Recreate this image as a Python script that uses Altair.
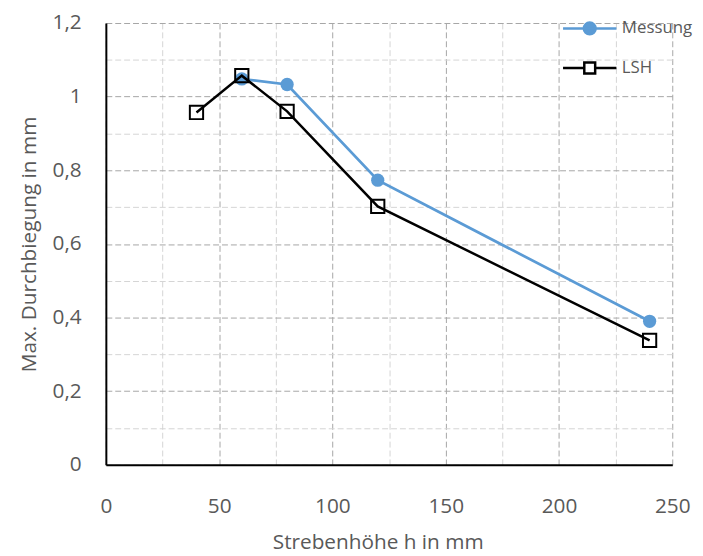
import altair as alt
import pandas as pd

# Data
mess_x = [60, 80, 120, 240]
mess_y = [1.048, 1.033, 0.773, 0.390]
lsh_x = [40, 60, 80, 120, 240]
lsh_y = [0.957, 1.057, 0.960, 0.702, 0.338]

series_names = ["Messung", "LSH"]
series_colors = ["#5B9BD5", "#000000"]

x_ticks = [0, 25, 50, 75, 100, 125, 150, 175, 200, 225, 250]
y_ticks = [0, 0.1, 0.2, 0.3, 0.4, 0.5, 0.6, 0.7, 0.8, 0.9, 1.0, 1.1, 1.2]

df_mess = pd.DataFrame({"h": mess_x, "d": mess_y, "series": "Messung"})
df_lsh = pd.DataFrame({"h": lsh_x, "d": lsh_y, "series": "LSH"})
df_all = pd.concat([df_mess, df_lsh], ignore_index=True)

FONT = "Open Sans"
TXT = "#595959"
FS = 21

x_enc = alt.X(
    "h:Q",
    scale=alt.Scale(domain=[0, 250], nice=False),
    axis=alt.Axis(
        values=x_ticks,
        title="Strebenhöhe h in mm",
        labelExpr="datum.value % 50 == 0 ? format(datum.value, 'd') : ''",
        ticks=False,
        labelPadding=31,
        labelFontSize=FS,
        labelColor=TXT,
        labelFont=FONT,
        titleFont=FONT,
        titleFontSize=FS,
        titleFontWeight="normal",
        titleColor=TXT,
        titleX=275,
        titleY=79,
        titleBaseline="middle",
        domainColor="#000000",
        domainWidth=2,
        grid=True,
        gridColor={"condition": {"test": "datum.value % 50 == 0", "value": "#a6a6a6"}, "value": "#d4d4d4"},
        gridDash=[6, 3],
        gridWidth=1,
        labelFlush=False,
        labelOverlap=False,
    ),
)

y_enc = alt.Y(
    "d:Q",
    scale=alt.Scale(domain=[0, 1.2], nice=False),
    axis=alt.Axis(
        values=y_ticks,
        title="Max. Durchbiegung in mm",
        labelExpr="round(datum.value * 10) % 2 == 0 ? replace(format(datum.value, '~g'), '.', ',') : ''",
        ticks=False,
        labelPadding=25,
        labelFontSize=FS,
        labelColor=TXT,
        labelFont=FONT,
        titleFont=FONT,
        titleFontSize=FS,
        titleFontWeight="normal",
        titleColor=TXT,
        titleX=-77,
        titleBaseline="middle",
        domainColor="#000000",
        domainWidth=2,
        grid=True,
        gridColor={"condition": {"test": "round(datum.value * 10) % 2 == 0", "value": "#a6a6a6"}, "value": "#d4d4d4"},
        gridDash=[6, 3],
        gridWidth=1,
        labelFlush=False,
        labelOverlap=False,
    ),
)

mess_line = alt.Chart(df_mess).mark_line(color=series_colors[0], strokeWidth=2.75).encode(x=x_enc, y=y_enc)
mess_pts = alt.Chart(df_mess).mark_point(
    shape="circle", filled=True, color=series_colors[0], size=180, opacity=1
).encode(x=x_enc, y=y_enc)
lsh_line = alt.Chart(df_lsh).mark_line(color=series_colors[1], strokeWidth=2.5).encode(x=x_enc, y=y_enc)
lsh_pts = alt.Chart(df_lsh).mark_point(
    shape="square", filled=False, color=series_colors[1], size=180, strokeWidth=2, opacity=1
).encode(x=x_enc, y=y_enc)

# legend-only layer (no visible data; legend drawn from the explicit scale domain)
mess_sym = "M-2.7,0H2.7M-0.6,0A0.6,0.6,0,1,1,0.6,0A0.6,0.6,0,1,1,-0.6,0Z"
lsh_sym = "M-2.7,0H-0.55M0.55,0H2.7M-0.55,-0.55H0.55V0.55H-0.55Z"
leg = alt.Legend(
    title=None,
    orient="none",
    legendX=478,
    legendY=-6,
    padding=0,
    symbolSize=400,
    symbolStrokeWidth=2.5,
    symbolOpacity=1,
    labelOffset=21,
    labelFont=FONT,
    labelFontSize=17,
    labelColor=TXT,
    rowPadding=17,
)
legend_layer = (
    alt.Chart(df_all)
    .transform_filter("false")
    .mark_point(strokeWidth=2.5, opacity=1)
    .encode(
        x=x_enc,
        y=y_enc,
        stroke=alt.Stroke("series:N", scale=alt.Scale(domain=series_names, range=series_colors), legend=leg),
        fill=alt.Fill("series:N", scale=alt.Scale(domain=series_names, range=[series_colors[0], "transparent"]), legend=leg),
        shape=alt.Shape("series:N", scale=alt.Scale(domain=series_names, range=[mess_sym, lsh_sym]), legend=leg),
    )
)

chart = (
    alt.layer(mess_line, mess_pts, lsh_line, lsh_pts, legend_layer)
    .properties(
        width=573,
        height=447,
        autosize="none",
        padding={"left": 99, "top": 12, "right": 23, "bottom": 88},
        background="white",
    )
    .configure_view(stroke=None)
)

chart.save("out.html", embed_options={"renderer": "svg", "actions": False})
